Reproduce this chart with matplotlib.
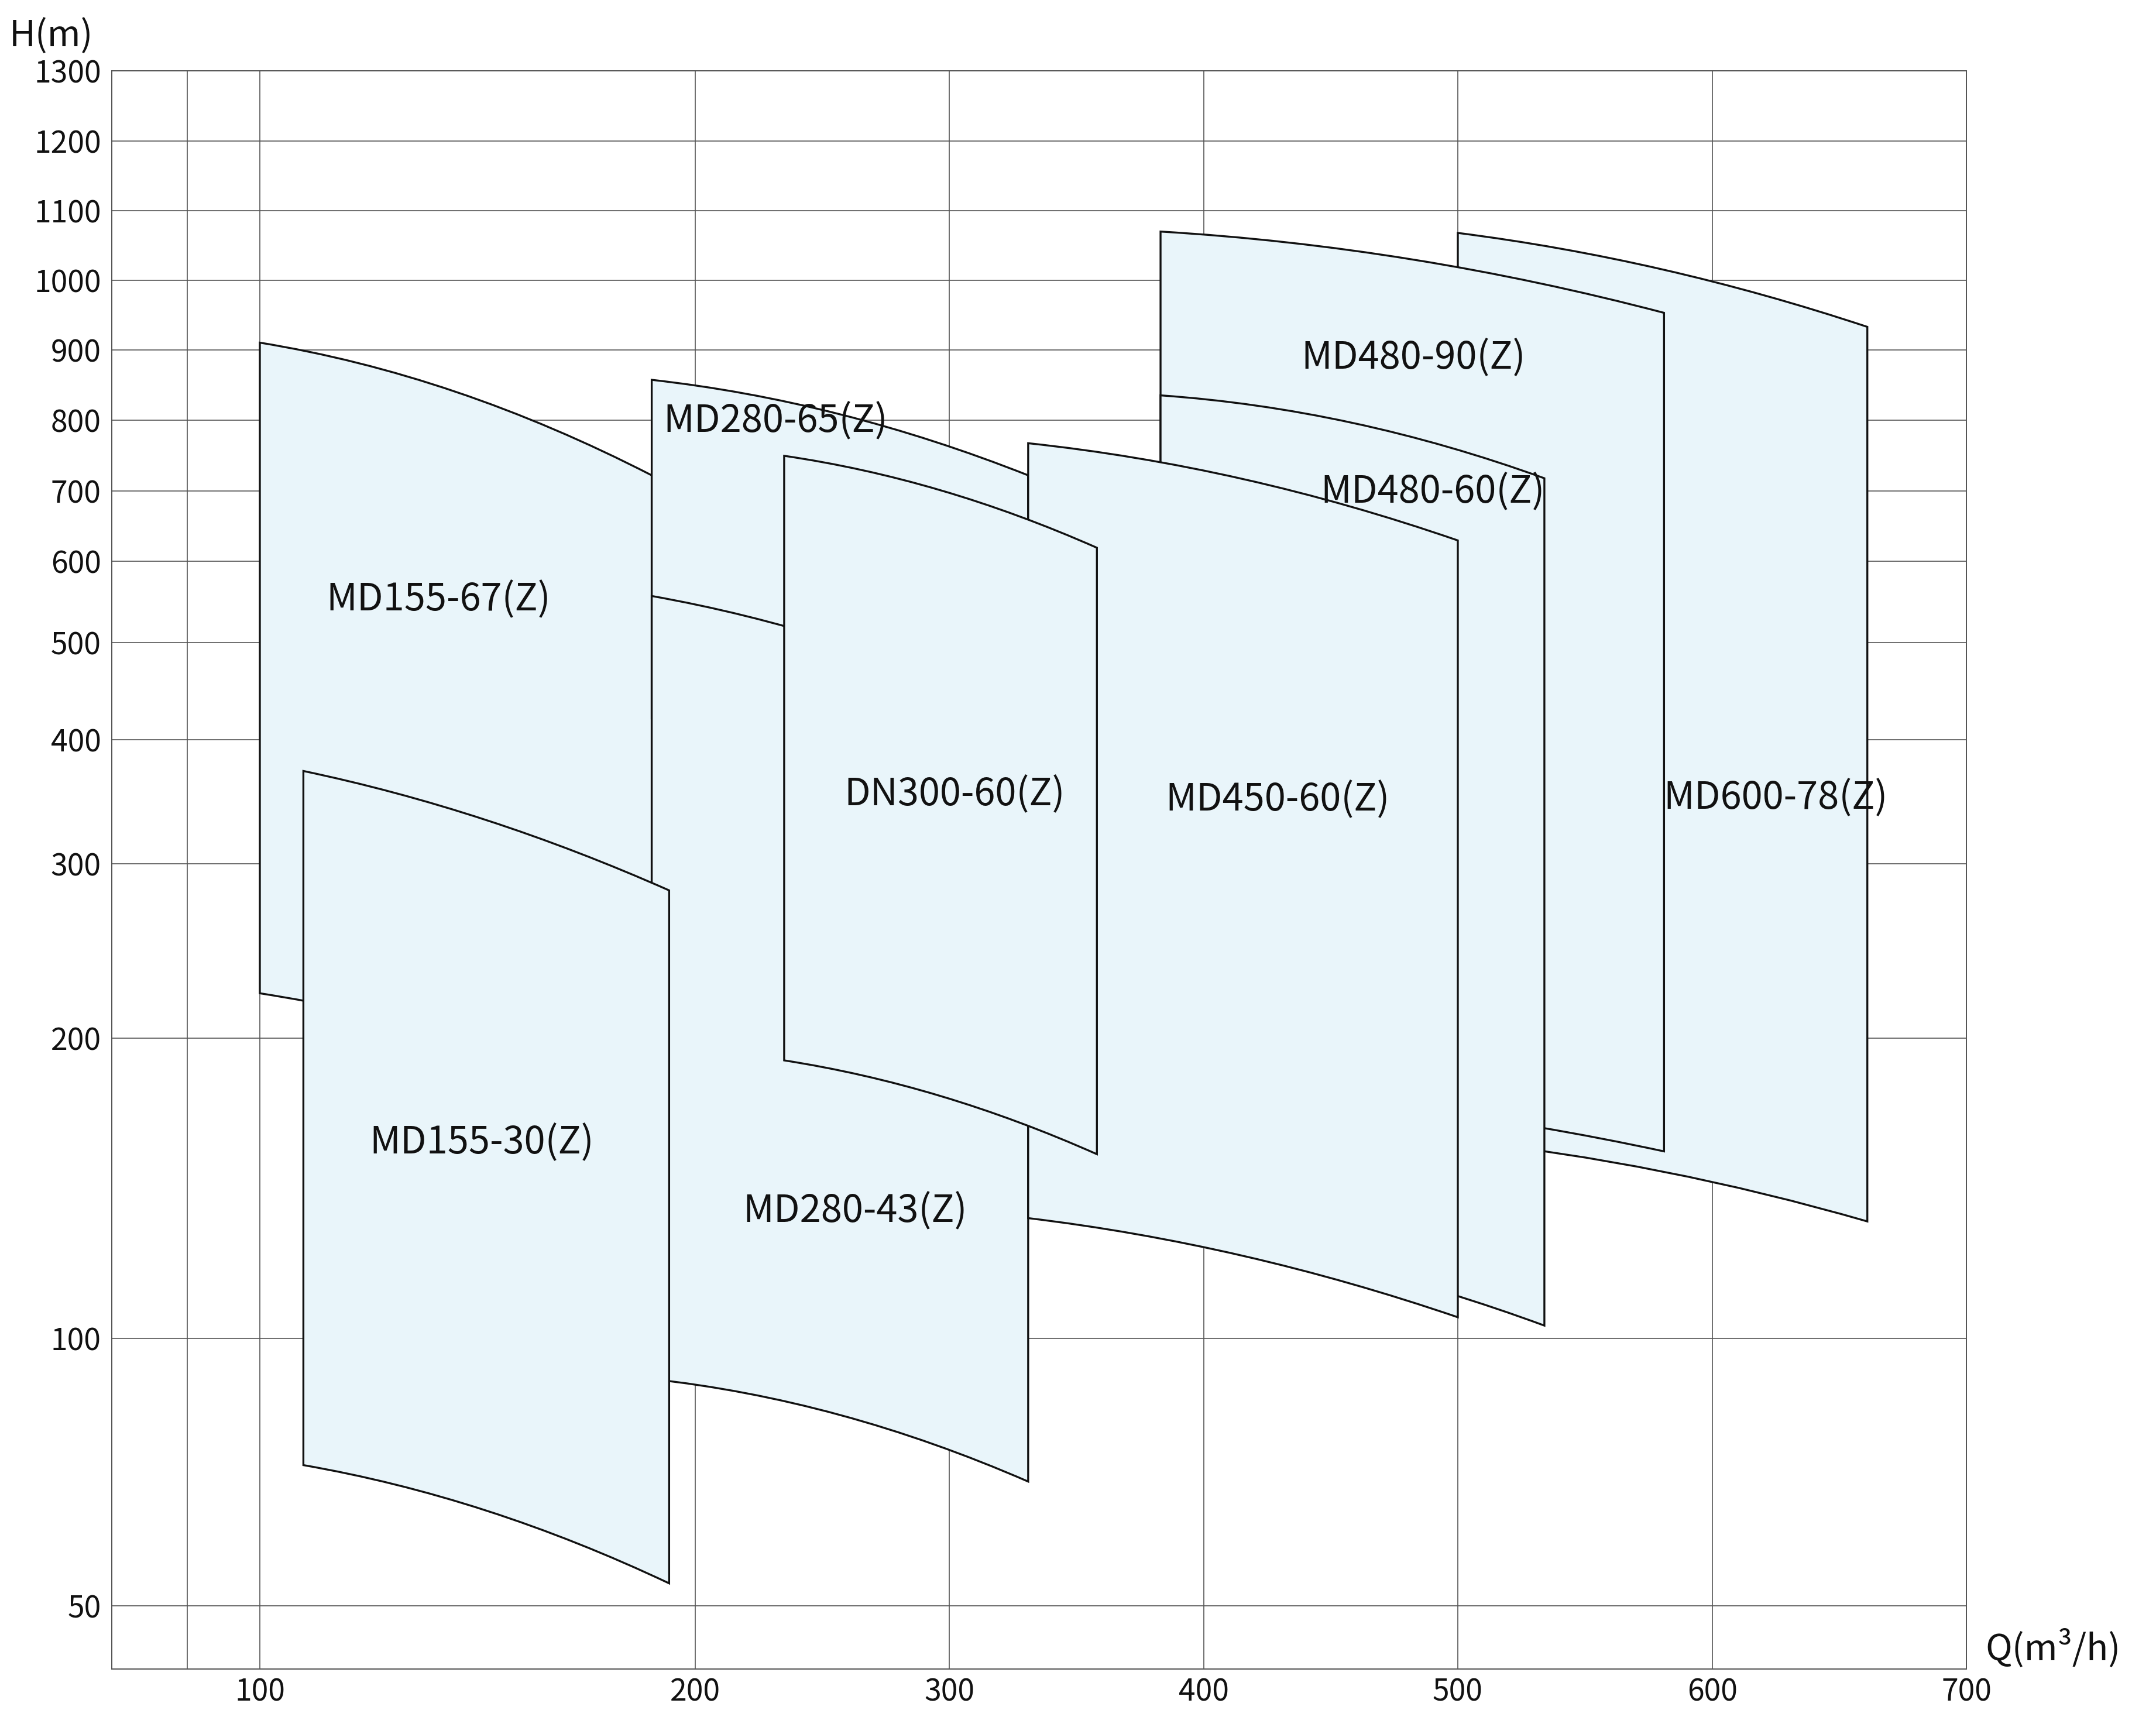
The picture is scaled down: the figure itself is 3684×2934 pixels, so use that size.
import numpy as np
import matplotlib
matplotlib.use('Agg')
import matplotlib.pyplot as plt
from matplotlib.path import Path
from matplotlib.patches import PathPatch

FONT = ['Noto Sans CJK SC', 'DejaVu Sans']

# ---- data: pump ranges (draw order = back to front) ----
names = ['MD155-67(Z)', 'MD280-65(Z)', 'MD280-43(Z)', 'MD155-30(Z)', 'MD600-78(Z)',
         'MD480-90(Z)', 'MD480-60(Z)', 'MD450-60(Z)', 'DN300-60(Z)']
q_left = [100, 190, 190, 110, 500, 383, 383, 331, 235]
q_right = [190, 331, 331, 194, 661, 581, 534, 500, 358]
# head on the upper curve: at left edge, mid flow, right edge
top_left = [910, 856, 555, 372, 1067, 1069, 834, 766, 748]
top_mid = [839, 808, 500, 332, 1015, 1029, 796, 716, 701]
top_right = [721, 721, 423, 282, 932, 952, 717, 628, 618]
# head on the lower curve
bot_left = [222, 420, 90, 72, 158, 178, 128, 132, 190]
bot_mid = [202, 400, 82, 64, 147, 170, 118, 121, 175]
bot_right = [176, 360, 69, 53, 131, 154, 103, 105, 153]
# label anchor (Q, H)
label_q = [141, 231.5, 263, 151, 625, 482.6, 490, 429, 302]
label_h = [550, 798, 134, 157, 349, 888, 698, 348, 352]

q_ticks = [100, 200, 300, 400, 500, 600, 700]
h_ticks = [50, 100, 200, 300, 400, 500, 600, 700, 800, 900, 1000, 1100, 1200, 1300]

# ---- the chart's own uneven axes (breakpoint value -> axis length units) ----
q_break_val = [80, 90, 100, 200, 300, 400, 500, 600, 700]
q_break_pos = [0, 129, 253, 997, 1431, 1866, 2300, 2735, 3169]
h_break_val = [40, 50, 100, 200, 300, 400, 500, 600, 700, 800, 900, 1000, 1100, 1200, 1300]
h_break_pos = [0, 108, 565, 1078, 1376, 1588, 1754, 1893, 2013, 2134, 2254, 2373, 2492, 2611, 2731]


def piecewise(vals, pos, log=False):
    v = np.log10(vals) if log else np.asarray(vals, float)
    p = np.asarray(pos, float)

    def fwd(x):
        x = np.asarray(x, float)
        xv = np.log10(np.clip(x, 1e-9, None)) if log else x
        return np.interp(xv, v, p)

    def inv(y):
        r = np.interp(np.asarray(y, float), p, v)
        return 10 ** r if log else r
    return fwd, inv


qf, qi = piecewise(q_break_val, q_break_pos)
hf, hi = piecewise(h_break_val, h_break_pos, log=True)


def band(q0, q1, tl, tm, tr, bl, bm, br):
    x0, x1 = qf(q0), qf(q1)
    xm = 0.5 * (x0 + x1)
    qm = float(qi(xm))

    def ctrl(hl, hm, hr):
        # quadratic bezier control so the curve passes through the mid point
        cy = 2 * hf(hm) - 0.5 * (hf(hl) + hf(hr))
        return float(hi(cy))
    verts = [(q0, tl), (qm, ctrl(tl, tm, tr)), (q1, tr),
             (q1, br), (qm, ctrl(br, bm, bl)), (q0, bl), (q0, tl)]
    codes = [Path.MOVETO, Path.CURVE3, Path.CURVE3, Path.LINETO,
             Path.CURVE3, Path.CURVE3, Path.CLOSEPOLY]
    return Path(verts, codes)


W, H = 3684, 2934
fig = plt.figure(figsize=(W / 240, H / 240), dpi=240)
fig.patch.set_facecolor('white')
ax = fig.add_axes([191 / W, 1 - 2852 / H, (3360 - 191) / W, (2852 - 121) / H])

ax.set_xscale('function', functions=(qf, qi))
ax.set_yscale('function', functions=(hf, hi))
ax.set_xlim(80, 700)
ax.set_ylim(40, 1300)

ax.set_xticks(q_ticks)
ax.set_xticklabels([str(v) for v in q_ticks])
ax.set_xticks([90], minor=True)
ax.set_yticks(h_ticks)
ax.set_yticklabels([str(v) for v in h_ticks])
ax.yaxis.set_minor_locator(matplotlib.ticker.NullLocator())

ax.set_axisbelow(True)
ax.grid(True, which='both', color='#555555', linewidth=0.5)
ax.tick_params(which='both', length=0)
ax.tick_params(axis='x', pad=4)
ax.tick_params(axis='y', pad=5.5)
for lab in ax.get_xticklabels() + ax.get_yticklabels():
    lab.set_family(FONT)
    lab.set_fontsize(15.5)
    lab.set_color('#111111')
for sp in ax.spines.values():
    sp.set_color('#555555')
    sp.set_linewidth(0.6)

for i in range(len(names)):
    p = band(q_left[i], q_right[i], top_left[i], top_mid[i], top_right[i],
             bot_left[i], bot_mid[i], bot_right[i])
    ax.add_patch(PathPatch(p, facecolor='#E9F5FA', edgecolor='#111111',
                           linewidth=1.0, joinstyle='miter', zorder=2 + i * 0.01))

for i in range(len(names)):
    ax.text(label_q[i], label_h[i], names[i], ha='center', va='center',
            fontsize=19.5, family=FONT, weight='medium', color='#111111', zorder=5)

fig.text(16 / W, 1 - 62 / H, 'H(m)', ha='left', va='center', fontsize=18.5,
         family=FONT, weight='medium', color='#111111')
fig.text(3392 / W, 1 - 2817 / H, 'Q(m³/h)', ha='left', va='center', fontsize=18.5,
         family=FONT, weight='medium', color='#111111')

fig.savefig('out.png', dpi=240, facecolor='white')
